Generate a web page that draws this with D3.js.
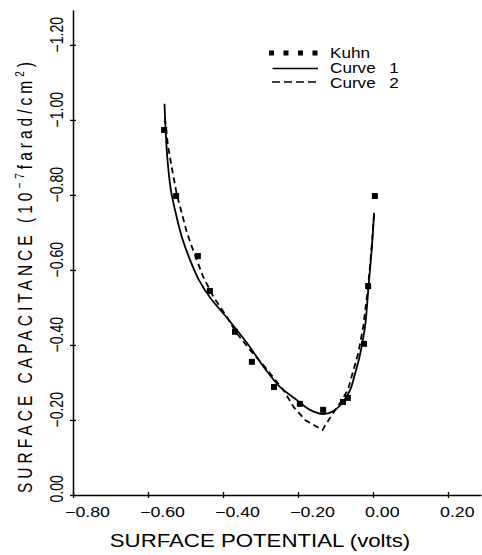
<!DOCTYPE html>
<html><head><meta charset="utf-8">
<script src="https://cdn.jsdelivr.net/npm/d3@7"></script>
<style>
body{margin:0;background:#fff}
svg{display:block}
text{font-family:"Liberation Sans",Arial,Helvetica,sans-serif;fill:#000}
</style>
</head><body>
<svg id="chart" width="482" height="555"></svg>
<script>
// ---- data ----
const xTickValues = [-0.8, -0.6, -0.4, -0.2, 0.0, 0.2];
const yTickValues = [0.0, -0.2, -0.4, -0.6, -0.8, -1.0, -1.2];

const kuhnPotential   = [-0.557,-0.525,-0.467,-0.435,-0.368,-0.323,-0.264,-0.195,-0.133,-0.080,-0.067,-0.024,-0.013,0.005];
const kuhnCapacitance = [-0.973,-0.797,-0.637,-0.544,-0.435,-0.355,-0.288,-0.243,-0.227,-0.248,-0.259,-0.403,-0.557,-0.797];

const curve1Potential   = [-0.556,-0.553,-0.548,-0.539,-0.525,-0.509,-0.488,-0.464,-0.432,-0.389,-0.336,-0.291,-0.248,-0.203,-0.168,-0.133,-0.107,-0.080,-0.061,-0.048,-0.036,-0.028,-0.020,-0.012,-0.003,0.003];
const curve1Capacitance = [-1.043,-0.973,-0.893,-0.813,-0.747,-0.685,-0.627,-0.573,-0.523,-0.472,-0.405,-0.341,-0.288,-0.253,-0.227,-0.216,-0.223,-0.248,-0.280,-0.323,-0.368,-0.408,-0.459,-0.555,-0.661,-0.752];

const curve2Potential   = [-0.555,-0.547,-0.537,-0.523,-0.510,-0.497,-0.483,-0.470,-0.453,-0.426,-0.390,-0.364,-0.328,-0.293,-0.239,-0.212,-0.181,-0.150,-0.135,-0.115,-0.088,-0.067,-0.039,-0.026,-0.013,-0.003,0.003];
const curve2Capacitance = [-1.005,-0.933,-0.875,-0.800,-0.752,-0.702,-0.662,-0.627,-0.582,-0.529,-0.475,-0.432,-0.387,-0.347,-0.280,-0.235,-0.200,-0.182,-0.173,-0.205,-0.245,-0.280,-0.379,-0.449,-0.555,-0.667,-0.752];

const seriesNames = ["Kuhn", "Curve 1", "Curve 2"];
const xTitle = "SURFACE POTENTIAL (volts)";

// ---- drawing ----
const SX = 1.27; // horizontal stretch of the lettering in the reference
const svg = d3.select("#chart");
const x = d3.scaleLinear().domain([-0.8, 0.288]).range([73, 481]);
const y = d3.scaleLinear().domain([0, -1.293]).range([495, 10]);
const fmt = d3.format(".2f");

// x axis
const gx = svg.append("g").attr("transform", `translate(0,${y(0)})`)
  .call(d3.axisBottom(x).tickValues(xTickValues).tickFormat(fmt).tickSizeOuter(0).tickSizeInner(3));
gx.select(".domain").attr("stroke", "#000").attr("stroke-width", 1.5);
gx.selectAll(".tick line").attr("y1", -3).attr("y2", 3).attr("stroke-width", 1.3);
gx.selectAll(".tick text").attr("x", null).attr("y", null).attr("dy", null)
  .attr("text-anchor", "start").attr("font-size", 14)
  .attr("transform", `translate(-8.5,21.5) scale(${SX},1)`);

// y axis
const gy = svg.append("g").attr("transform", `translate(${x(-0.8)},0)`)
  .call(d3.axisLeft(y).tickValues(yTickValues).tickFormat(fmt).tickSizeOuter(0).tickSizeInner(3));
gy.select(".domain").attr("stroke", "#000").attr("stroke-width", 1.5);
gy.selectAll(".tick line").attr("x1", -3).attr("x2", 3).attr("stroke-width", 1.3);
gy.selectAll(".tick text").attr("x", null).attr("y", null).attr("dy", null)
  .attr("text-anchor", "start").attr("font-size", 14)
  .attr("transform", `translate(-10.5,7) scale(${SX},1) rotate(-90)`);

// curves
const line1 = d3.line().x(d => x(d[0])).y(d => y(d[1])).curve(d3.curveCatmullRom.alpha(0.5));
const line2 = d3.line().x(d => x(d[0])).y(d => y(d[1])).curve(d3.curveLinear);
svg.append("path").datum(d3.zip(curve1Potential, curve1Capacitance))
  .attr("d", line1).attr("fill", "none").attr("stroke", "#000").attr("stroke-width", 1.8);
svg.append("path").datum(d3.zip(curve2Potential, curve2Capacitance))
  .attr("d", line2).attr("fill", "none").attr("stroke", "#000").attr("stroke-width", 1.8)
  .attr("stroke-dasharray", "6,4");

// Kuhn points
const S = 6;
svg.append("g").selectAll("rect").data(d3.zip(kuhnPotential, kuhnCapacitance)).join("rect")
  .attr("x", d => x(d[0]) - S / 2).attr("y", d => y(d[1]) - S / 2)
  .attr("width", S).attr("height", S).attr("fill", "#000");

// legend
const lg = svg.append("g").attr("transform", "translate(270,0)");
lg.selectAll("rect").data(d3.range(4)).join("rect")
  .attr("x", i => i * 14.5 - 1).attr("y", 50.5).attr("width", 5).attr("height", 5).attr("fill", "#000");
lg.append("line").attr("x1", 2.5).attr("x2", 48).attr("y1", 68.5).attr("y2", 68.5)
  .attr("stroke", "#000").attr("stroke-width", 1.5);
lg.append("line").attr("x1", 2).attr("x2", 48).attr("y1", 82).attr("y2", 82)
  .attr("stroke", "#000").attr("stroke-width", 1.5).attr("stroke-dasharray", "8,4");
const legendBase = [57.5, 72.5, 87.5];
seriesNames.forEach((n, i) => {
  lg.append("text").attr("font-size", 13.5).attr("word-spacing", 7)
    .attr("transform", `translate(60,${legendBase[i]}) scale(${SX},1.08)`).text(n);
});

// x title
svg.append("text").attr("font-size", 17.5).attr("text-anchor", "middle")
  .attr("transform", `translate(260,547) scale(${SX},1)`).text(xTitle);

// y title
const yt = svg.append("text").attr("font-size", 15.5)
  .attr("transform", `translate(32,493) scale(${SX},1) rotate(-90)`);
yt.append("tspan").text("SURFACE CAPACITANCE (10");
yt.append("tspan").attr("font-size", 10).attr("dy", -6).text("\u22127");
yt.append("tspan").attr("dy", 6).text("farad/cm");
yt.append("tspan").attr("font-size", 10).attr("dy", -6).text("2");
yt.append("tspan").attr("dy", 6).text(")");
const nat = yt.node().getComputedTextLength();
const nChars = yt.text().length;
yt.attr("letter-spacing", Math.max(0, (431 - nat) / (nChars - 1)));
</script>
</body></html>
